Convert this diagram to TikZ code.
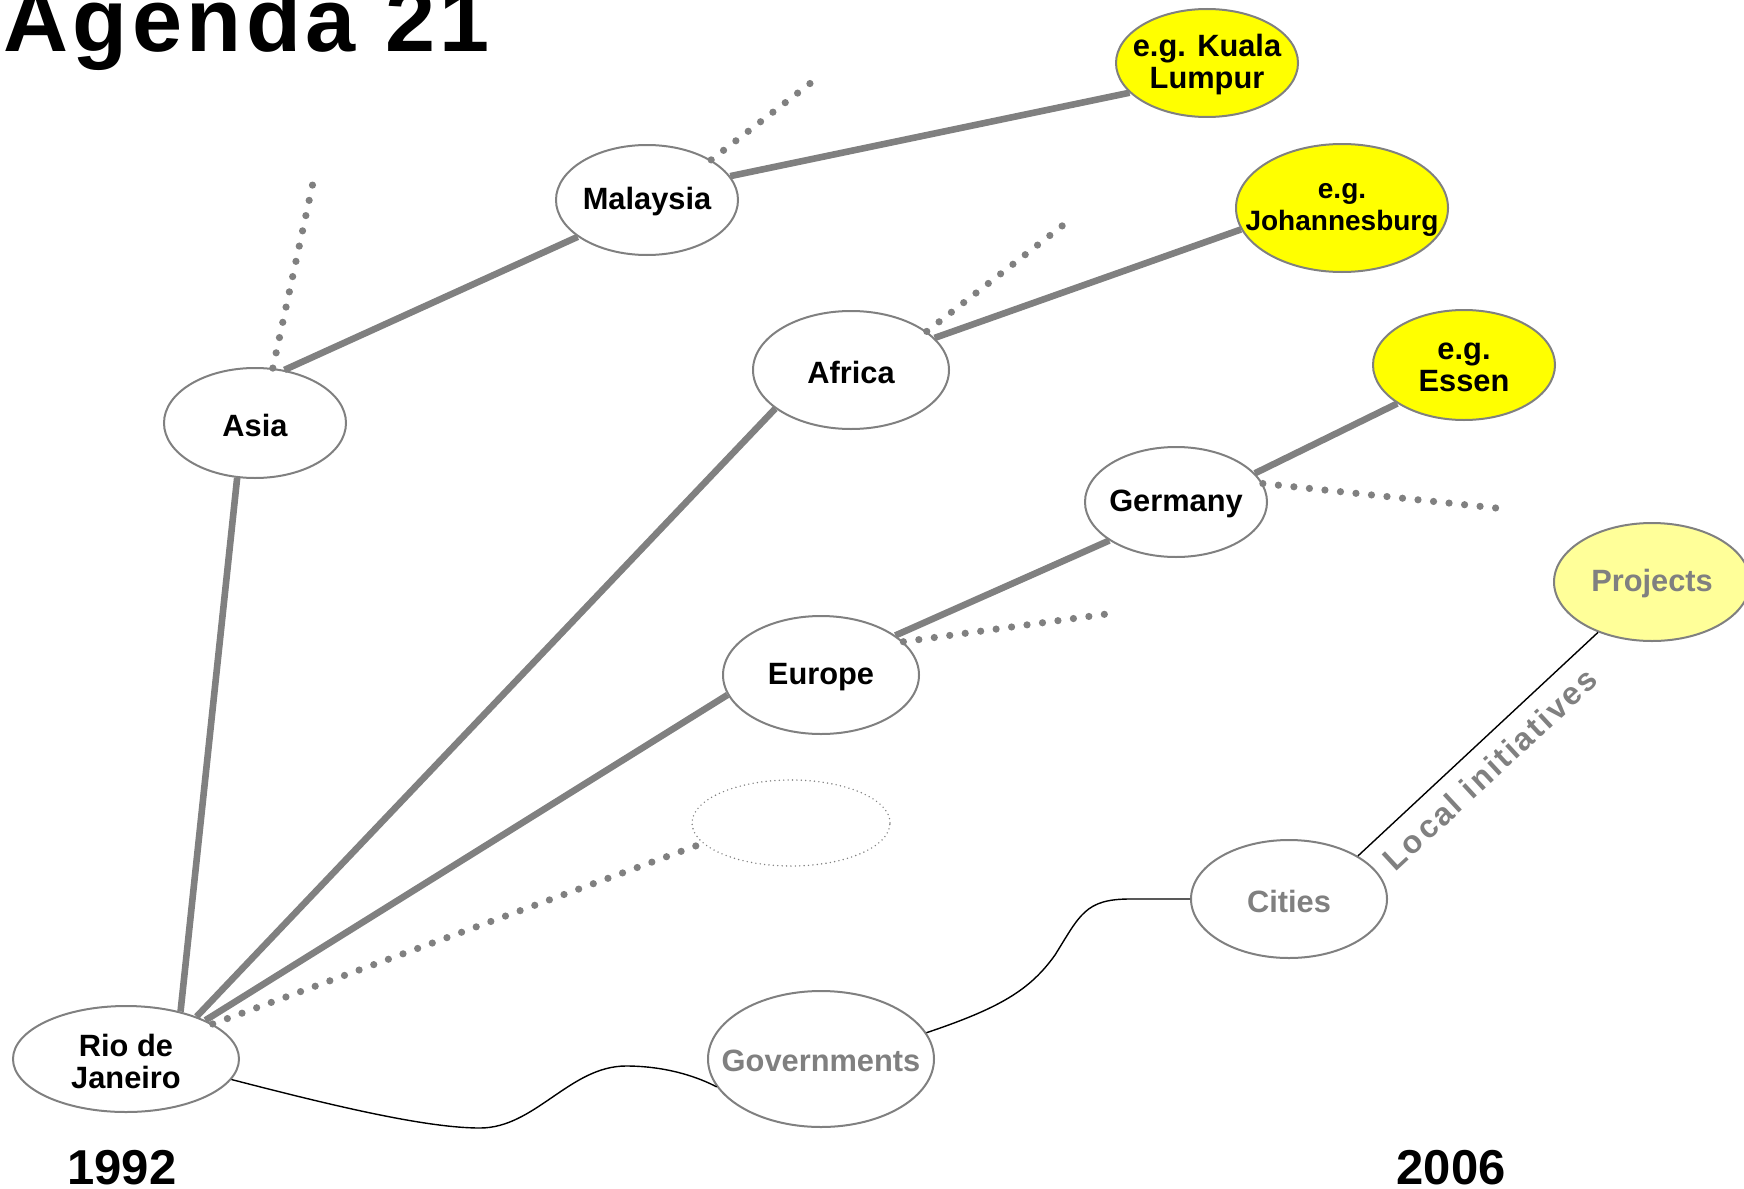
\documentclass[tikz,border=0pt]{standalone}
\usepackage{fontspec}
\setmainfont{Liberation Sans}
\usetikzlibrary{shapes.geometric}
\definecolor{lg}{HTML}{808080}
\definecolor{yl}{HTML}{FFFF00}
\definecolor{pyl}{HTML}{FFFF99}
\begin{document}
\begin{tikzpicture}[x=0.5pt,y=-0.5pt,
  ell/.style={ellipse, draw=lg, line width=1pt, inner sep=0pt, fill=white},
  lbl/.style={font=\fontsize{15.4}{16}\selectfont\bfseries, align=center, inner sep=0pt, yshift=-1pt},
  thickline/.style={draw=lg, line width=3.3pt},
  dotline/.style={draw=lg, line width=3.6pt, line cap=round, dash pattern=on 0pt off 7.8pt},
  thinline/.style={draw=black, line width=0.7pt},
  year/.style={anchor=base, inner sep=0pt, font=\fontsize{24.5}{28}\selectfont\bfseries}]
\useasboundingbox (0,0) rectangle (1744,1188);

% ellipses
\node[ell, minimum width=113pt, minimum height=53pt] (rio) at (126,1059) {};
\node[ell, minimum width=91pt, minimum height=55pt] (asia) at (255,423) {};
\node[ell, minimum width=91pt, minimum height=55pt] (mal) at (647,200) {};
\node[ell, fill=yl, minimum width=91pt, minimum height=54pt] (kl) at (1207,63) {};
\node[ell, fill=yl, minimum width=106pt, minimum height=64pt] (jo) at (1342,208) {};
\node[ell, minimum width=98pt, minimum height=59pt] (af) at (851,370) {};
\node[ell, fill=yl, minimum width=91pt, minimum height=55pt] (es) at (1464,365) {};
\node[ell, minimum width=91pt, minimum height=55pt] (ge) at (1176,502) {};
\node[ell, fill=pyl, minimum width=98pt, minimum height=59pt] (pr) at (1652,582) {};
\node[ell, minimum width=98pt, minimum height=59pt] (eu) at (821,675) {};
\node[ellipse, draw=lg, line width=0.8pt, line cap=round, dash pattern=on 0pt off 2.2pt, inner sep=0pt, minimum width=99pt, minimum height=43pt] (dt) at (791,823) {};
\node[ell, minimum width=98pt, minimum height=59pt] (ci) at (1289,899) {};
\node[ell, minimum width=113pt, minimum height=68pt] (go) at (821,1059) {};

% free ends of dotted lines
\coordinate (asiad) at (314,178);
\coordinate (mald) at (821,75);
\coordinate (afd) at (1071,219);
\coordinate (eud) at (1114,613);
\coordinate (ged) at (1496,508);

% thick connectors
\draw[thickline] (rio.41) -- (asia.252.6);
\draw[thickline] (rio.31) -- (af.207.6);
\draw[thickline] (rio.26) -- (eu.192.4);
\draw[dotline] (rio.22.5) -- (dt.193.9);
\draw[thickline] (asia.61) -- (mal.208.5);
\draw[dotline] (asia.72) -- (asiad);
\draw[thickline] (mal.16.8) -- (kl.201.7);
\draw[dotline] (mal.32.4) -- (mald);
\draw[thickline] (af.21.8) -- (jo.192.7);
\draw[dotline] (af.27) -- (afd);
\draw[thickline] (eu.28.3) -- (ge.210.8);
\draw[dotline] (eu.22.6) -- (eud);
\draw[thickline] (ge.20.4) -- (es.210.4);
\draw[dotline] (ge.12.2) -- (ged);

% thin connectors
\draw[thinline] (ci.32.8) -- (pr.223);
\draw[thinline] (rio.-11.6) .. controls (330,1105) and (425,1128) .. (480,1128)
  .. controls (535,1128) and (570,1066) .. (626,1066)
  .. controls (668,1066) and (700,1078) .. (go.195.6);
\draw[thinline] (go.14.9) .. controls (1000,1008) and (1030,990) .. (1055,955)
  .. controls (1080,915) and (1085,899) .. (1130,899) -- (ci.180);

% labels
\node[lbl] (riot) at (rio) {Rio de\\Janeiro};
\node[lbl] (asiat) at (asia) {Asia};
\node[lbl] (malt) at (mal) {Malaysia};
\node[lbl] (klt) at (kl) {e.g. Kuala\\Lumpur};
\node[lbl, font=\fontsize{14}{16}\selectfont\bfseries] (jot) at (jo) {e.g.\\Johannesburg};
\node[lbl] (aft) at (af) {Africa};
\node[lbl] (est) at (es) {e.g.\\Essen};
\node[lbl] (get) at (ge) {Germany};
\node[lbl, text=lg] (prt) at (pr) {Projects};
\node[lbl] (eut) at (eu) {Europe};
\node[lbl, text=lg] (cit) at (ci) {Cities};
\node[lbl, text=lg] (got) at (go) {Governments};
\node[lbl, yshift=1pt, text=lg, rotate=42.8, font=\fontsize{16}{16}\selectfont\bfseries] (li) at (1490,769) {\addfontfeature{LetterSpace=8}Local initiatives};

\node[anchor=base west, inner sep=0pt, font=\fontsize{45}{50}\selectfont\bfseries] (title) at (3,52) {\addfontfeature{LetterSpace=5}Agenda 21};
\node[year] (y1) at (122,1184) {1992};
\node[year] (y2) at (1451,1184) {2006};
\end{tikzpicture}
\end{document}
